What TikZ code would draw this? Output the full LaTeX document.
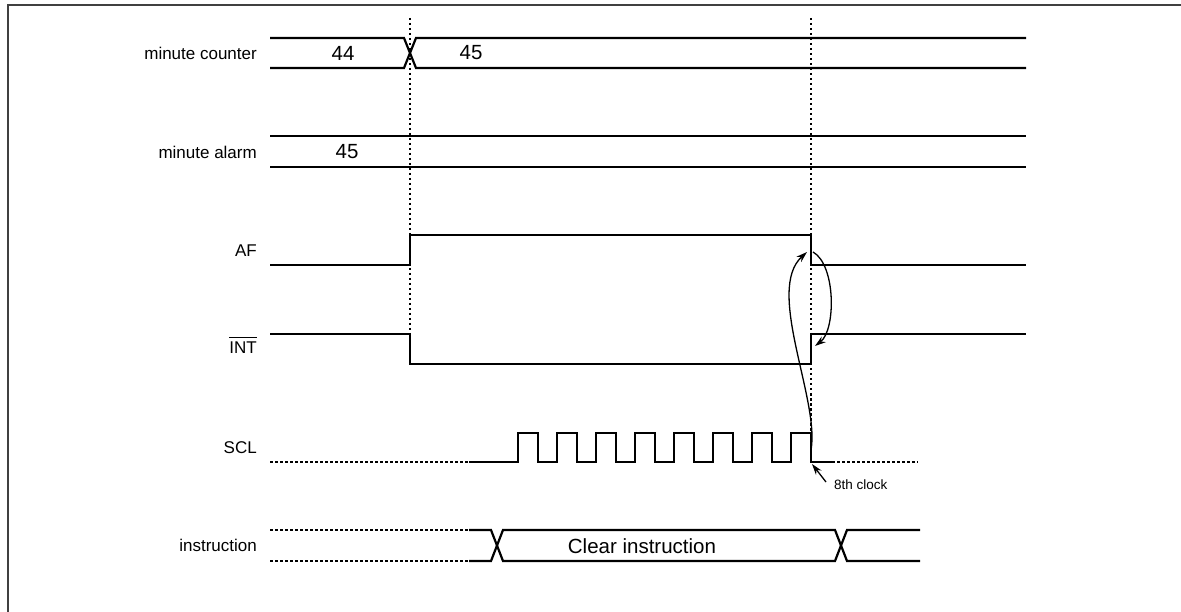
\documentclass[tikz,border=0pt]{standalone}
\usepackage{fontspec}
\setmainfont{Liberation Sans}
\usetikzlibrary{arrows.meta}
\begin{document}
\begin{tikzpicture}[x=1pt,y=-1pt,
  sig/.style={line width=2.2pt, line join=miter},
  dots/.style={line width=2pt, dash pattern=on 2.5pt off 2.5pt},
  guide/.style={line width=2pt, dash pattern=on 2.5pt off 2.5pt},
  lbl/.style={anchor=east, inner sep=0pt, font=\fontsize{17}{20}\selectfont},
  val/.style={inner sep=0pt, font=\fontsize{20.5}{24}\selectfont},
  note/.style={-{Stealth[length=11pt,width=7pt]}, line width=1.3pt}
]
\useasboundingbox (0,0) rectangle (1181,612);
\clip (0,0) rectangle (1181,612);
\draw[line width=1.5pt, black!75] (8,5) rectangle (1200,640);

% labels
\node[lbl] (lmc) at (257,53) {minute counter};
\node[lbl] (lma) at (257,152) {minute alarm};
\node[lbl] (laf) at (257,251) {AF};
\node[lbl, anchor=base east] (lint) at (257,353) {INT};
\draw[line width=1.1pt] ([yshift=3.5pt]lint.north west) -- ([yshift=3.5pt]lint.north east);
\node[lbl] (lscl) at (257,448) {SCL};
\node[lbl] (lins) at (257,545) {instruction};

% values
\node[val] (v44) at (343,53) {44};
\node[val] (v45) at (471,53) {45};
\node[val] (va45) at (347,152) {45};
\node[val] (vclr) at (642,546) {Clear instruction};
\node[anchor=west, inner sep=0pt, font=\fontsize{13.5}{16}\selectfont] (n8) at (834,485) {8th clock};

% minute counter
\draw[sig] (270,38) -- (404,38) -- (416,68) -- (1026,68);
\draw[sig] (270,68) -- (404,68) -- (416,38) -- (1026,38);
% minute alarm
\draw[sig] (270,136) -- (1026,136);
\draw[sig] (270,167) -- (1026,167);
% AF
\draw[sig] (270,265) -- (410,265) -- (410,235) -- (811,235) -- (811,265) -- (1026,265);
% INT
\draw[sig] (270,334) -- (410,334) -- (410,364) -- (811,364) -- (811,334) -- (1026,334);
% SCL
\draw[dots] (270,462) -- (469,462);
\draw[sig] (469,462) -- (518,462)
  \foreach \i in {0,...,7}{ -- ++(0,-29) -- ++(20,0) -- ++(0,29) -- ++(19,0)} -- (832,462);
\draw[dots] (832,462) -- (918,462);
% instruction
\draw[dots] (270,530) -- (469,530);
\draw[dots] (270,561) -- (469,561);
\draw[sig] (469,530) -- (491,530) -- (503,561) -- (835,561) -- (847,530) -- (920,530);
\draw[sig] (469,561) -- (491,561) -- (503,530) -- (835,530) -- (847,561) -- (920,561);

% guides
\draw[guide] (410,18) -- (410,364);
\draw[guide] (811,18) -- (811,462);

% causality arrows
\coordinate (sclstart) at (811,450);
\coordinate (afedge) at (807,252);
\coordinate (afout) at (813,252);
\coordinate (intedge) at (815,346);
\coordinate (n8tail) at (826,482);
\coordinate (n8tip) at (812,464);
\draw[note] (sclstart) .. controls (820,400) and (765,290) .. (afedge);
\draw[note] (afout) .. controls (836,265) and (836,330) .. (intedge);
\draw[note] (n8tail) -- (n8tip);
\end{tikzpicture}
\end{document}
